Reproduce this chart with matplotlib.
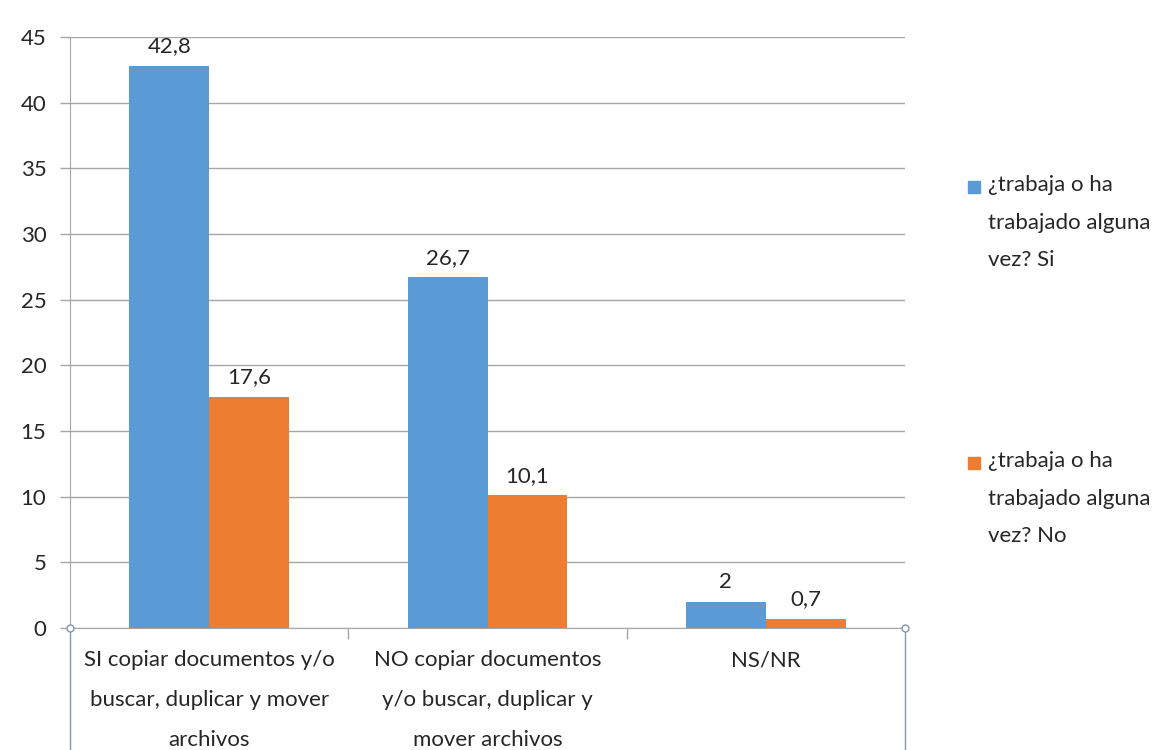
import matplotlib
matplotlib.use("Agg")
import matplotlib.pyplot as plt
from matplotlib.lines import Line2D
import numpy as np

categories = [
    "SI copiar documentos y/o\nbuscar, duplicar y mover\narchivos",
    "NO copiar documentos\ny/o buscar, duplicar y\nmover archivos",
    "NS/NR",
]
series_names = [
    "¿trabaja o ha\ntrabajado alguna\nvez? Si",
    "¿trabaja o ha\ntrabajado alguna\nvez? No",
]
values_si = [42.8, 26.7, 2.0]
values_no = [17.6, 10.1, 0.7]
value_labels_si = ["42,8", "26,7", "2"]
value_labels_no = ["17,6", "10,1", "0,7"]
y_ticks = [0, 5, 10, 15, 20, 25, 30, 35, 40, 45]

BLUE = "#5b9bd5"
ORANGE = "#ed7d31"
GRID = "#a6a6a6"
TEXT = "#262626"
FONT = "Lato"
FS = 16

plt.rcParams["font.family"] = [FONT, "DejaVu Sans"]

fig = plt.figure(figsize=(11.64, 7.5), dpi=100)
ax = fig.add_axes([70 / 1164, 1 - 628 / 750, 835 / 1164, 591 / 750])

x = np.arange(len(categories))
w = 0.287
b1 = ax.bar(x - w / 2, values_si, width=w, color=BLUE, zorder=3)
b2 = ax.bar(x + w / 2, values_no, width=w, color=ORANGE, zorder=3)

for bars, labels in ((b1, value_labels_si), (b2, value_labels_no)):
    for rect, lab in zip(bars, labels):
        ax.annotate(lab, (rect.get_x() + rect.get_width() / 2, rect.get_height()),
                    xytext=(0, 7), textcoords="offset points", ha="center", va="bottom",
                    fontsize=FS, color=TEXT)

ax.set_xlim(-0.5, 2.5)
ax.set_ylim(0, 45)
ax.set_yticks(y_ticks)
ax.set_yticklabels([str(v) for v in y_ticks], fontsize=FS, color=TEXT)
ax.yaxis.grid(True, color=GRID, linewidth=1.0, zorder=0)
ax.tick_params(axis="y", length=7, color=GRID, pad=10, width=1)

# category separators as minor ticks below the axis
ax.set_xticks([0.5, 1.5], minor=True)
ax.set_xticks(x)
ax.set_xticklabels(categories, fontsize=FS, color=TEXT, linespacing=2.25)
ax.tick_params(axis="x", which="major", length=0, pad=16)
ax.tick_params(axis="x", which="minor", length=8, color=GRID, width=1)

for s in ["top", "right"]:
    ax.spines[s].set_visible(False)
ax.spines["left"].set_color(GRID)
ax.spines["bottom"].set_color(GRID)

# selection frame lines and handles around the plot area
y0 = 1 - 628 / 750
for xf in (70 / 1164, 905 / 1164):
    fig.add_artist(Line2D([xf, xf], [0, y0], color="#8497b0", linewidth=1.0))
    fig.add_artist(Line2D([xf], [y0], marker="o", markersize=5, markerfacecolor="white",
                          markeredgecolor="#8497b0", linestyle="none"))

# legend
legend_items = [(BLUE, series_names[0], 187), (ORANGE, series_names[1], 463)]
for color, name, ymid in legend_items:
    fig.patches.append(plt.Rectangle((968 / 1164, 1 - (ymid + 6) / 750), 12 / 1164, 12 / 750,
                                     transform=fig.transFigure, color=color))
    fig.text(988 / 1164, 1 - (ymid - 12) / 750, name, fontsize=FS, color=TEXT,
             va="top", ha="left", linespacing=2.1)

fig.savefig("out.png", dpi=100, facecolor="white")
